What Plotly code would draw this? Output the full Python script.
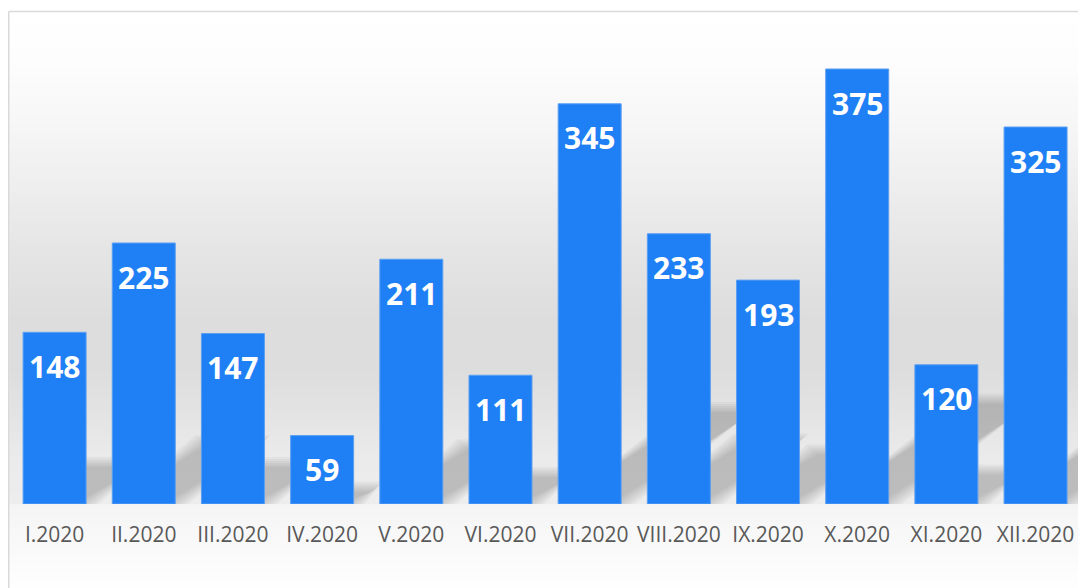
import plotly.graph_objects as go

# ---- data ----
months = ["I.2020", "II.2020", "III.2020", "IV.2020", "V.2020", "VI.2020",
          "VII.2020", "VIII.2020", "IX.2020", "X.2020", "XI.2020", "XII.2020"]
values = [148, 225, 147, 59, 211, 111, 345, 233, 193, 375, 120, 325]

# ---- layout geometry (page pixel coords; body margin removed) ----
W, H = 1078, 588
ML, MR, MT, MB = 10, 0, 20, 84
PW, PH = W - ML - MR, H - MT - MB
BASE = MT + PH
CAT_PX = 89.18           # pixel width of one category band
Y_PX = 1.16              # pixels per value unit
XR = [-0.5, -0.5 + PW / CAT_PX]
YR = [0, PH / Y_PX]
BAR_W = 63 / CAT_PX

xs = list(range(len(months)))

def px2paper_y(py):
    return (BASE - py) / PH

def px2paper_x(px):
    return (px - ML) / PW

shapes = []

# ---- background gradient (inside outer chart border) ----
stops_above = [(11, 255), (60, 253), (120, 247), (180, 239), (250, 229),
               (320, 221), (370, 221), (410, 227), (460, 235), (BASE, 237)]
stops_below = [(BASE, 244), (540, 249), (588, 254)]

def interp(stops, y):
    for (y0, c0), (y1, c1) in zip(stops, stops[1:]):
        if y0 <= y <= y1:
            t = (y - y0) / (y1 - y0) if y1 > y0 else 0
            return c0 + t * (c1 - c0)
    return stops[-1][1]

border_x = 8.75
border_y = 11.5
step = 3
y = 12
while y < H:
    y2 = min(y + step, H)
    if y < BASE < y2:
        y2 = BASE
    stops = stops_above if y < BASE else stops_below
    g = int(round(interp(stops, (y + y2) / 2)))
    col = f"rgb({g},{g},{g})"
    shapes.append(dict(type="rect", xref="paper", yref="paper", layer="below",
                       x0=px2paper_x(border_x + 0.5), x1=px2paper_x(W + 5),
                       y0=px2paper_y(y2), y1=px2paper_y(y),
                       fillcolor=col, line=dict(width=0)))
    y = y2

# outer border lines (top and left)
shapes.append(dict(type="line", xref="paper", yref="paper", layer="below",
                   x0=px2paper_x(border_x), x1=px2paper_x(W + 5),
                   y0=px2paper_y(border_y), y1=px2paper_y(border_y),
                   line=dict(color="#d9d9d9", width=1.5)))
shapes.append(dict(type="line", xref="paper", yref="paper", layer="below",
                   x0=px2paper_x(border_x), x1=px2paper_x(border_x),
                   y0=px2paper_y(border_y), y1=px2paper_y(H + 5),
                   line=dict(color="#d9d9d9", width=1.5)))

# ---- perspective shadows (blurred parallelograms) ----
SLOPE = 0.7
SY = 0.24
half = 31.5
for i, v in zip(xs, values):
    hpx = v * Y_PX
    dy = SY * hpx
    dx = dy / SLOPE
    for d in [-4, -2, 0, 2, 4, 6]:
        pts_px = [(-half - d, -d), (half + d, -d),
                  (half + dx + d, dy + d), (-half + dx - d, dy + d)]
        path = ""
        for k, (px, py) in enumerate(pts_px):
            xd = i + px / CAT_PX
            yd = py / Y_PX
            path += ("M" if k == 0 else "L") + f"{xd:.4f},{yd:.4f} "
        path += "Z"
        shapes.append(dict(type="path", xref="x", yref="y", layer="below",
                           path=path, fillcolor="rgba(0,0,0,0.036)",
                           line=dict(width=0)))

fig = go.Figure()
fig.add_trace(go.Bar(
    x=xs, y=values, width=BAR_W,
    marker=dict(color="#1f80f5", line=dict(color="#5c9ff2", width=1)),
    hoverinfo="skip",
))

annotations = []
for i, v in zip(xs, values):
    annotations.append(dict(x=i, y=v, xref="x", yref="y", text=str(v),
                            showarrow=False, yshift=-34, yanchor="middle",
                            font=dict(family="Open Sans", size=30, color="white",
                                      weight="bold")))

fig.update_layout(
    width=W, height=H,
    margin=dict(l=ML, r=MR, t=MT, b=MB, pad=0),
    paper_bgcolor="white",
    plot_bgcolor="rgba(0,0,0,0)",
    showlegend=False,
    shapes=shapes,
    annotations=annotations,
    xaxis=dict(range=XR, tickvals=xs, ticktext=months, showgrid=False,
               zeroline=False, showline=False, ticks="",
               ticklabelstandoff=16,
               tickfont=dict(family="Open Sans", size=21, color="#595959")),
    yaxis=dict(range=YR, visible=False, showgrid=False, zeroline=False),
)

fig.write_html("out.html",
               config={"displayModeBar": False, "staticPlot": True},
               post_script="document.body.style.margin='0';"
                           "document.body.style.overflow='hidden';")
